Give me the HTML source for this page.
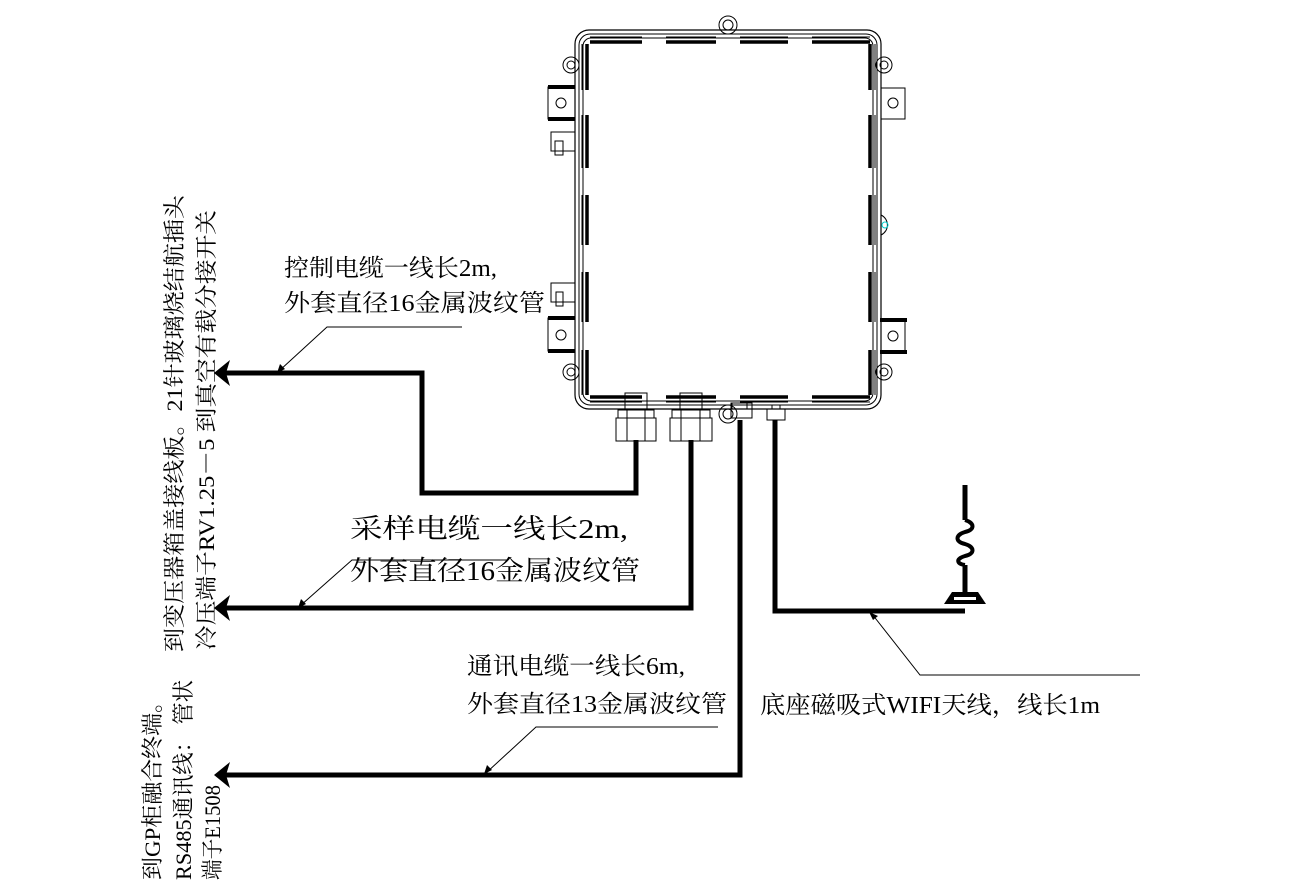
<!DOCTYPE html>
<html><head><meta charset="utf-8"><style>
html,body{margin:0;padding:0;background:#fff;}
svg{display:block;}
text{font-family:"Liberation Serif","Noto Serif CJK SC","Noto Sans CJK SC",serif;fill:#000;}
</style></head><body>
<svg width="1290" height="895" viewBox="0 0 1290 895" xmlns="http://www.w3.org/2000/svg">
<g fill="none" stroke="#000">
<rect x="575" y="30" width="306" height="379" rx="14" stroke-width="1.2"/>
<rect x="579" y="34" width="298" height="371" rx="11" stroke-width="1"/>
<rect x="583" y="38" width="290" height="363" rx="8" stroke-width="1"/>
<g stroke-width="3.5">
<path d="M590 42 H642 M666 42 H716 M740 42 H788 M812 42 H870"/>
<path d="M590 397 H642 M666 397 H716 M740 397 H788 M812 397 H870"/>
<path d="M587 44 V90 M587 115 V168 M587 195 V245 M587 272 V322 M587 350 V395"/>
<path d="M870 44 V90 M870 115 V168 M870 195 V245 M870 272 V322 M870 350 V395"/>
</g>
<g stroke-width="1">
<path d="M590 37 H642 M666 37 H716 M740 37 H788 M812 37 H870"/>
<path d="M590 402 H642 M666 402 H716 M740 402 H788 M812 402 H870"/>
<path d="M582 44 V90 M582 115 V168 M582 195 V245 M582 272 V322 M582 350 V395"/>
<path d="M875 44 V90 M875 115 V168 M875 195 V245 M875 272 V322 M875 350 V395"/>
</g>
<circle cx="728" cy="25" r="9"/><circle cx="728" cy="25" r="5"/>
<circle cx="571" cy="65" r="8"/><circle cx="571" cy="65" r="4"/>
<circle cx="884" cy="65" r="8"/><circle cx="884" cy="65" r="4"/>
<circle cx="571" cy="372" r="8"/><circle cx="571" cy="372" r="4"/>
<circle cx="884" cy="372" r="8"/><circle cx="884" cy="372" r="4"/>
<circle cx="728" cy="414" r="9"/><circle cx="728" cy="414" r="5"/>
<path d="M881 215 a11 11 0 0 1 0 20"/><circle cx="885" cy="225" r="3" stroke="#0cc"/>
<rect x="548" y="87" width="27" height="32"/><circle cx="561" cy="103" r="5"/>
<path d="M548 87 H575 M548 119 H575" stroke-width="4"/>
<rect x="548" y="318" width="27" height="33"/><circle cx="561" cy="335" r="5"/>
<path d="M548 318 H575 M548 351 H575" stroke-width="4"/>
<rect x="881" y="88" width="24" height="31"/><circle cx="893" cy="103" r="5"/>
<rect x="881" y="320" width="24" height="32"/><circle cx="893" cy="336" r="5"/>
<path d="M880 320 H907 M880 352 H907" stroke-width="4"/>
<rect x="551" y="132" width="24" height="19"/><rect x="555" y="141" width="8" height="14"/>
<rect x="551" y="283" width="24" height="19"/><rect x="556" y="292" width="7" height="14"/>
<rect x="625" y="393" width="22" height="17"/>
<rect x="618" y="410" width="36" height="8"/>
<rect x="616" y="418" width="40" height="23"/><path d="M627 410 V441 M645 410 V441"/>
<rect x="680" y="393" width="22" height="17"/>
<rect x="672" y="410" width="38" height="8"/>
<rect x="670" y="418" width="42" height="23"/><path d="M681 410 V441 M700 410 V441"/>
<rect x="731" y="403" width="21" height="15"/><rect x="732" y="403" width="15" height="6"/>
<rect x="767" y="409" width="18" height="11"/><rect x="772" y="405" width="8" height="4"/>
</g>
<g fill="none" stroke="#000" stroke-width="5" stroke-linejoin="miter">
<path d="M225 373 H422 V493 H636 V440"/>
<path d="M225 608 H691 V440"/>
<path d="M225 775 H740 V420"/>
<path d="M775 420 V611 H965"/>
<path d="M965 485 V520 M965 565 V598"/>
<path d="M965 520 c10 3 10 10 0 12 c-10 3 -10 10 0 12 c10 3 10 10 0 12 c-10 3 -8 8 0 9" stroke-width="4"/>
</g>
<path d="M944 604 L952 592 H978 L986 604 Z" fill="#000"/>
<rect x="954" y="597" width="22" height="3" fill="#fff"/>
<g fill="#000">
<path d="M214 373 L230 360 L226 373 L230 386 Z"/>
<path d="M214 608 L230 595 L226 608 L230 621 Z"/>
<path d="M214 775 L230 762 L226 775 L230 788 Z"/>
</g>
<g fill="none" stroke="#000" stroke-width="1">
<path d="M462 327 H327 L279 371"/>
<path d="M508 560 H352 L300 606"/>
<path d="M718 727 H536 L486 773"/>
<path d="M1140 675 H920 L872 614"/>
</g>
<g fill="#000">
<path d="M277 373 l3 -9 l5 5 z"/>
<path d="M298 608 l3 -9 l5 5 z"/>
<path d="M484 774 l3 -9 l5 5 z"/>
<path d="M869 612 l9 4 l-5 4 z"/>
</g>
<g font-size="24">
<text x="284" y="276" textLength="213" lengthAdjust="spacingAndGlyphs">控制电缆一线长2m,</text>
<text x="284" y="311" textLength="261" lengthAdjust="spacingAndGlyphs">外套直径16金属波纹管</text>
<text x="350" y="538" font-size="27" textLength="278" lengthAdjust="spacingAndGlyphs">采样电缆一线长2m,</text>
<text x="350" y="580" font-size="27" textLength="290" lengthAdjust="spacingAndGlyphs">外套直径16金属波纹管</text>
<text x="467" y="674" textLength="218" lengthAdjust="spacingAndGlyphs">通讯电缆一线长6m,</text>
<text x="467" y="712" textLength="260" lengthAdjust="spacingAndGlyphs">外套直径13金属波纹管</text>
<text x="760" y="713" textLength="340" lengthAdjust="spacingAndGlyphs">底座磁吸式WIFI天线，线长1m</text>
</g>
<g font-size="22">
<text transform="translate(182,652) rotate(-90)" textLength="457" lengthAdjust="spacingAndGlyphs">到变压器箱盖接线板。21针玻璃烧结航插头</text>
<text transform="translate(214,650) rotate(-90)" textLength="440" lengthAdjust="spacingAndGlyphs">冷压端子RV1.25－5  到真空有载分接开关</text>
<text transform="translate(160,880) rotate(-90)" textLength="190" lengthAdjust="spacingAndGlyphs">到GP柜融合终端。</text>
<text transform="translate(191,880) rotate(-90)" textLength="200" lengthAdjust="spacingAndGlyphs">RS485通讯线：  管状</text>
<text transform="translate(220,880) rotate(-90)" textLength="95" lengthAdjust="spacingAndGlyphs">端子E1508</text>
</g>
</svg>
</body></html>
